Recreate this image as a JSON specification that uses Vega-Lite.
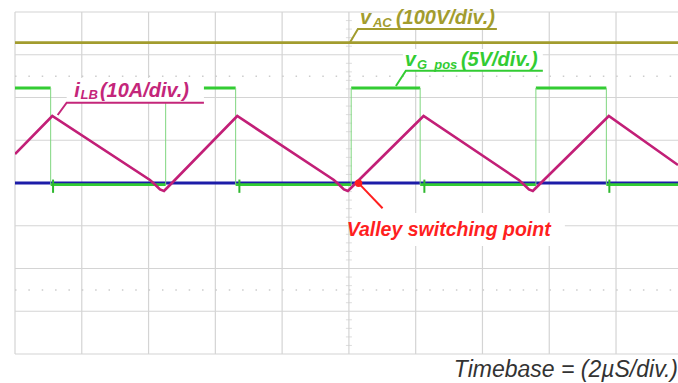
{
  "$schema": "https://vega.github.io/schema/vega-lite/v6.json",
  "width": 663,
  "height": 342,
  "autosize": {"type": "none"},
  "padding": {"left": 15, "top": 12, "right": 0, "bottom": 29},
  "background": "white",
  "config": {"view": {"stroke": null}},
  "datasets": {
    "gridx": [{"g": 0}, {"g": 1}, {"g": 2}, {"g": 3}, {"g": 4}, {"g": 5}, {"g": 6}, {"g": 7}, {"g": 8}, {"g": 9}],
    "gridy": [{"g": 0}, {"g": 1}, {"g": 2}, {"g": 3}, {"g": 4}, {"g": 5}, {"g": 6}, {"g": 7}, {"g": 8}],
    "dots": [{"y": 6.5}, {"y": 1.5}],
    "minor": [{"y": 0.2}, {"y": 0.4}, {"y": 0.6}, {"y": 0.8}, {"y": 1.2}, {"y": 1.4}, {"y": 1.6}, {"y": 1.8}, {"y": 2.2}, {"y": 2.4}, {"y": 2.6}, {"y": 2.8}, {"y": 3.2}, {"y": 3.4}, {"y": 3.6}, {"y": 3.8}, {"y": 4.2}, {"y": 4.4}, {"y": 4.6}, {"y": 4.8}, {"y": 5.2}, {"y": 5.4}, {"y": 5.6}, {"y": 5.8}, {"y": 6.2}, {"y": 6.4}, {"y": 6.6}, {"y": 6.8}, {"y": 7.2}, {"y": 7.4}, {"y": 7.6}, {"y": 7.8}],
    "flats": [
      {"s": "vAC", "x": 0, "x2": 9.928, "y": 7.282},
      {"s": "blue", "x": 0, "x2": 9.928, "y": 4.0},
      {"s": "vG", "x": 0, "x2": 0.534, "y": 6.222},
      {"s": "vG", "x": 2.256, "x2": 3.304, "y": 6.222},
      {"s": "vG", "x": 5.034, "x2": 6.067, "y": 6.222},
      {"s": "vG", "x": 7.8, "x2": 8.855, "y": 6.222},
      {"s": "vG", "x": 0.534, "x2": 2.256, "y": 3.96},
      {"s": "vG", "x": 3.304, "x2": 5.034, "y": 3.96},
      {"s": "vG", "x": 6.067, "x2": 7.8, "y": 3.96},
      {"s": "vG", "x": 8.855, "x2": 9.928, "y": 3.96}
    ],
    "edges": [
      {"x": 0.534, "y": 3.96, "y2": 6.222},
      {"x": 2.256, "y": 3.96, "y2": 6.222},
      {"x": 3.304, "y": 3.96, "y2": 6.222},
      {"x": 5.034, "y": 3.96, "y2": 6.222},
      {"x": 6.067, "y": 3.96, "y2": 6.222},
      {"x": 7.8, "y": 3.96, "y2": 6.222},
      {"x": 8.855, "y": 3.96, "y2": 6.222}
    ],
    "spikes": [
      {"x": 0.57, "y": 3.77, "y2": 4.08},
      {"x": 3.36, "y": 3.77, "y2": 4.08},
      {"x": 6.13, "y": 3.77, "y2": 4.08},
      {"x": 8.9, "y": 3.77, "y2": 4.08}
    ],
    "ilb": [
      {"o": 0, "x": 0, "y": 4.678},
      {"o": 1, "x": 0.558, "y": 5.567},
      {"o": 2, "x": 2.021, "y": 4.07},
      {"o": 3, "x": 2.096, "y": 3.965},
      {"o": 4, "x": 2.171, "y": 3.848},
      {"o": 5, "x": 2.231, "y": 3.813},
      {"o": 6, "x": 2.29, "y": 3.906},
      {"o": 7, "x": 2.35, "y": 4.0},
      {"o": 8, "x": 3.328, "y": 5.567},
      {"o": 9, "x": 4.775, "y": 4.07},
      {"o": 10, "x": 4.85, "y": 3.965},
      {"o": 11, "x": 4.925, "y": 3.848},
      {"o": 12, "x": 4.985, "y": 3.813},
      {"o": 13, "x": 5.045, "y": 3.906},
      {"o": 14, "x": 5.105, "y": 4.0},
      {"o": 15, "x": 6.118, "y": 5.567},
      {"o": 16, "x": 7.545, "y": 4.07},
      {"o": 17, "x": 7.62, "y": 3.965},
      {"o": 18, "x": 7.695, "y": 3.848},
      {"o": 19, "x": 7.754, "y": 3.813},
      {"o": 20, "x": 7.814, "y": 3.906},
      {"o": 21, "x": 7.874, "y": 4.0},
      {"o": 22, "x": 8.892, "y": 5.567},
      {"o": 23, "x": 9.928, "y": 4.42}
    ],
    "boxes": [
      {"x": 0.774, "x2": 2.829, "y": 5.895, "y2": 6.456},
      {"x": 5.808, "x2": 7.904, "y": 6.643, "y2": 7.135},
      {"x": 5.135, "x2": 7.216, "y": 7.602, "y2": 7.977},
      {"x": 5.045, "x2": 8.234, "y": 2.526, "y2": 3.298}
    ],
    "leaders": [
      {"s": "vAC", "o": 0, "x": 5.011, "y": 7.276},
      {"s": "vAC", "o": 1, "x": 5.135, "y": 7.602},
      {"s": "vAC", "o": 2, "x": 7.216, "y": 7.602},
      {"s": "vG", "o": 0, "x": 5.704, "y": 6.269},
      {"s": "vG", "o": 1, "x": 5.853, "y": 6.627},
      {"s": "vG", "o": 2, "x": 7.904, "y": 6.627},
      {"s": "iLB", "o": 0, "x": 0.639, "y": 5.591},
      {"s": "iLB", "o": 1, "x": 0.774, "y": 5.879},
      {"s": "iLB", "o": 2, "x": 2.829, "y": 5.879}
    ],
    "labels": [
      {"s": "vAC", "t": "v", "x": 5.165, "y": 7.719},
      {"s": "vAC", "t": "(100V/div.)", "x": 5.704, "y": 7.719},
      {"s": "vG", "t": "v", "x": 5.838, "y": 6.737},
      {"s": "vG", "t": "(5V/div.)", "x": 6.677, "y": 6.737},
      {"s": "iLB", "t": "i", "x": 0.888, "y": 6.019},
      {"s": "iLB", "t": "(10A/div.)", "x": 1.272, "y": 6.019}
    ],
    "subs": [
      {"s": "vAC", "t": "AC", "x": 5.359, "y": 7.649},
      {"s": "vG", "t": "G_pos", "x": 6.018, "y": 6.667},
      {"s": "iLB", "t": "LB", "x": 0.98, "y": 5.965}
    ],
    "marker": [{"x": 5.145, "y": 3.993}],
    "arrow": [{"x": 5.155, "y": 3.98, "x2": 5.504, "y2": 3.408}],
    "note": [{"t": "Valley switching point", "x": 4.966, "y": 2.76}],
    "timebase": [{"t": "Timebase = (2µS/div.)", "x": 9.928, "y": -0.531}]
  },
  "layer": [
    {
      "data": {"name": "gridx"},
      "mark": {"type": "rule", "color": "#d4d4d4", "strokeWidth": 1.2},
      "encoding": {
        "x": {"field": "g", "type": "quantitative", "axis": null, "scale": {"domain": [0, 9.928], "nice": false, "zero": false}}
      }
    },
    {
      "data": {"name": "gridy"},
      "mark": {"type": "rule", "color": "#d4d4d4", "strokeWidth": 1.2},
      "encoding": {
        "y": {"field": "g", "type": "quantitative", "axis": null, "scale": {"domain": [0, 8], "nice": false, "zero": false}}
      }
    },
    {
      "data": {"name": "dots"},
      "mark": {"type": "rule", "color": "#cccccc", "strokeWidth": 1.5, "strokeDash": [1.5, 11.86]},
      "encoding": {
        "x": {"datum": 0, "type": "quantitative", "axis": null, "scale": {"domain": [0, 9.928], "nice": false, "zero": false}},
        "x2": {"datum": 9.928},
        "y": {"field": "y", "type": "quantitative", "axis": null, "scale": {"domain": [0, 8], "nice": false, "zero": false}}
      }
    },
    {
      "data": {"name": "minor"},
      "mark": {"type": "tick", "orient": "horizontal", "size": 6, "thickness": 1, "color": "#cfcfcf"},
      "encoding": {
        "x": {"datum": 5, "type": "quantitative", "axis": null, "scale": {"domain": [0, 9.928], "nice": false, "zero": false}},
        "y": {"field": "y", "type": "quantitative", "axis": null, "scale": {"domain": [0, 8], "nice": false, "zero": false}}
      }
    },
    {
      "data": {"name": "flats"},
      "mark": {"type": "rule", "strokeWidth": 2.8},
      "encoding": {
        "x": {"field": "x", "type": "quantitative", "axis": null, "scale": {"domain": [0, 9.928], "nice": false, "zero": false}},
        "x2": {"field": "x2"},
        "y": {"field": "y", "type": "quantitative", "axis": null, "scale": {"domain": [0, 8], "nice": false, "zero": false}},
        "color": {"field": "s", "type": "nominal", "legend": null, "scale": {"domain": ["vAC", "vG", "iLB", "blue"], "range": ["#a29c2e", "#33cc33", "#c4267a", "#1c1ca8"]}}
      }
    },
    {
      "data": {"name": "edges"},
      "mark": {"type": "rule", "strokeWidth": 1, "color": "#7fd67f"},
      "encoding": {
        "x": {"field": "x", "type": "quantitative", "axis": null, "scale": {"domain": [0, 9.928], "nice": false, "zero": false}},
        "y": {"field": "y", "type": "quantitative", "axis": null, "scale": {"domain": [0, 8], "nice": false, "zero": false}},
        "y2": {"field": "y2"}
      }
    },
    {
      "data": {"name": "spikes"},
      "mark": {"type": "rule", "strokeWidth": 2, "color": "#2fb82f"},
      "encoding": {
        "x": {"field": "x", "type": "quantitative", "axis": null, "scale": {"domain": [0, 9.928], "nice": false, "zero": false}},
        "y": {"field": "y", "type": "quantitative", "axis": null, "scale": {"domain": [0, 8], "nice": false, "zero": false}},
        "y2": {"field": "y2"}
      }
    },
    {
      "data": {"name": "ilb"},
      "mark": {"type": "line", "strokeWidth": 2.6, "color": "#c21f77", "clip": true},
      "encoding": {
        "x": {"field": "x", "type": "quantitative", "axis": null, "scale": {"domain": [0, 9.928], "nice": false, "zero": false}},
        "y": {"field": "y", "type": "quantitative", "axis": null, "scale": {"domain": [0, 8], "nice": false, "zero": false}},
        "order": {"field": "o", "type": "quantitative"}
      }
    },
    {
      "data": {"name": "boxes"},
      "mark": {"type": "rect", "color": "white"},
      "encoding": {
        "x": {"field": "x", "type": "quantitative", "axis": null, "scale": {"domain": [0, 9.928], "nice": false, "zero": false}},
        "x2": {"field": "x2"},
        "y": {"field": "y", "type": "quantitative", "axis": null, "scale": {"domain": [0, 8], "nice": false, "zero": false}},
        "y2": {"field": "y2"}
      }
    },
    {
      "data": {"name": "leaders"},
      "mark": {"type": "line", "strokeWidth": 2},
      "encoding": {
        "x": {"field": "x", "type": "quantitative", "axis": null, "scale": {"domain": [0, 9.928], "nice": false, "zero": false}},
        "y": {"field": "y", "type": "quantitative", "axis": null, "scale": {"domain": [0, 8], "nice": false, "zero": false}},
        "order": {"field": "o", "type": "quantitative"},
        "color": {"field": "s", "type": "nominal", "legend": null, "scale": {"domain": ["vAC", "vG", "iLB", "blue"], "range": ["#a29c2e", "#33cc33", "#dc1a88", "#1c1ca8"]}}
      }
    },
    {
      "data": {"name": "labels"},
      "mark": {"type": "text", "align": "left", "baseline": "alphabetic", "font": "Liberation Sans", "fontStyle": "italic", "fontWeight": "bold", "fontSize": 20},
      "encoding": {
        "x": {"field": "x", "type": "quantitative", "axis": null, "scale": {"domain": [0, 9.928], "nice": false, "zero": false}},
        "y": {"field": "y", "type": "quantitative", "axis": null, "scale": {"domain": [0, 8], "nice": false, "zero": false}},
        "text": {"field": "t"},
        "color": {"field": "s", "type": "nominal", "legend": null, "scale": {"domain": ["vAC", "vG", "iLB", "blue"], "range": ["#a29c2e", "#33cc33", "#dc1a88", "#1c1ca8"]}}
      }
    },
    {
      "data": {"name": "subs"},
      "mark": {"type": "text", "align": "left", "baseline": "alphabetic", "font": "Liberation Sans", "fontStyle": "italic", "fontWeight": "bold", "fontSize": 13},
      "encoding": {
        "x": {"field": "x", "type": "quantitative", "axis": null, "scale": {"domain": [0, 9.928], "nice": false, "zero": false}},
        "y": {"field": "y", "type": "quantitative", "axis": null, "scale": {"domain": [0, 8], "nice": false, "zero": false}},
        "text": {"field": "t"},
        "color": {"field": "s", "type": "nominal", "legend": null, "scale": {"domain": ["vAC", "vG", "iLB", "blue"], "range": ["#a29c2e", "#33cc33", "#dc1a88", "#1c1ca8"]}}
      }
    },
    {
      "data": {"name": "arrow"},
      "mark": {"type": "rule", "color": "#ff1f1f", "strokeWidth": 2},
      "encoding": {
        "x": {"field": "x", "type": "quantitative", "axis": null, "scale": {"domain": [0, 9.928], "nice": false, "zero": false}},
        "y": {"field": "y", "type": "quantitative", "axis": null, "scale": {"domain": [0, 8], "nice": false, "zero": false}},
        "x2": {"field": "x2"},
        "y2": {"field": "y2"}
      }
    },
    {
      "data": {"name": "marker"},
      "mark": {"type": "point", "filled": true, "color": "#ff1f1f", "size": 55, "opacity": 1},
      "encoding": {
        "x": {"field": "x", "type": "quantitative", "axis": null, "scale": {"domain": [0, 9.928], "nice": false, "zero": false}},
        "y": {"field": "y", "type": "quantitative", "axis": null, "scale": {"domain": [0, 8], "nice": false, "zero": false}}
      }
    },
    {
      "data": {"name": "note"},
      "mark": {"type": "text", "align": "left", "baseline": "alphabetic", "font": "Liberation Sans", "fontStyle": "italic", "fontWeight": "bold", "fontSize": 19.5, "color": "#ff1f1f"},
      "encoding": {
        "x": {"field": "x", "type": "quantitative", "axis": null, "scale": {"domain": [0, 9.928], "nice": false, "zero": false}},
        "y": {"field": "y", "type": "quantitative", "axis": null, "scale": {"domain": [0, 8], "nice": false, "zero": false}},
        "text": {"field": "t"}
      }
    },
    {
      "data": {"name": "timebase"},
      "mark": {"type": "text", "align": "right", "baseline": "alphabetic", "font": "Liberation Sans", "fontStyle": "italic", "fontWeight": "normal", "fontSize": 23, "color": "#333333"},
      "encoding": {
        "x": {"field": "x", "type": "quantitative", "axis": null, "scale": {"domain": [0, 9.928], "nice": false, "zero": false}},
        "y": {"field": "y", "type": "quantitative", "axis": null, "scale": {"domain": [0, 8], "nice": false, "zero": false}},
        "text": {"field": "t"}
      }
    }
  ]
}
